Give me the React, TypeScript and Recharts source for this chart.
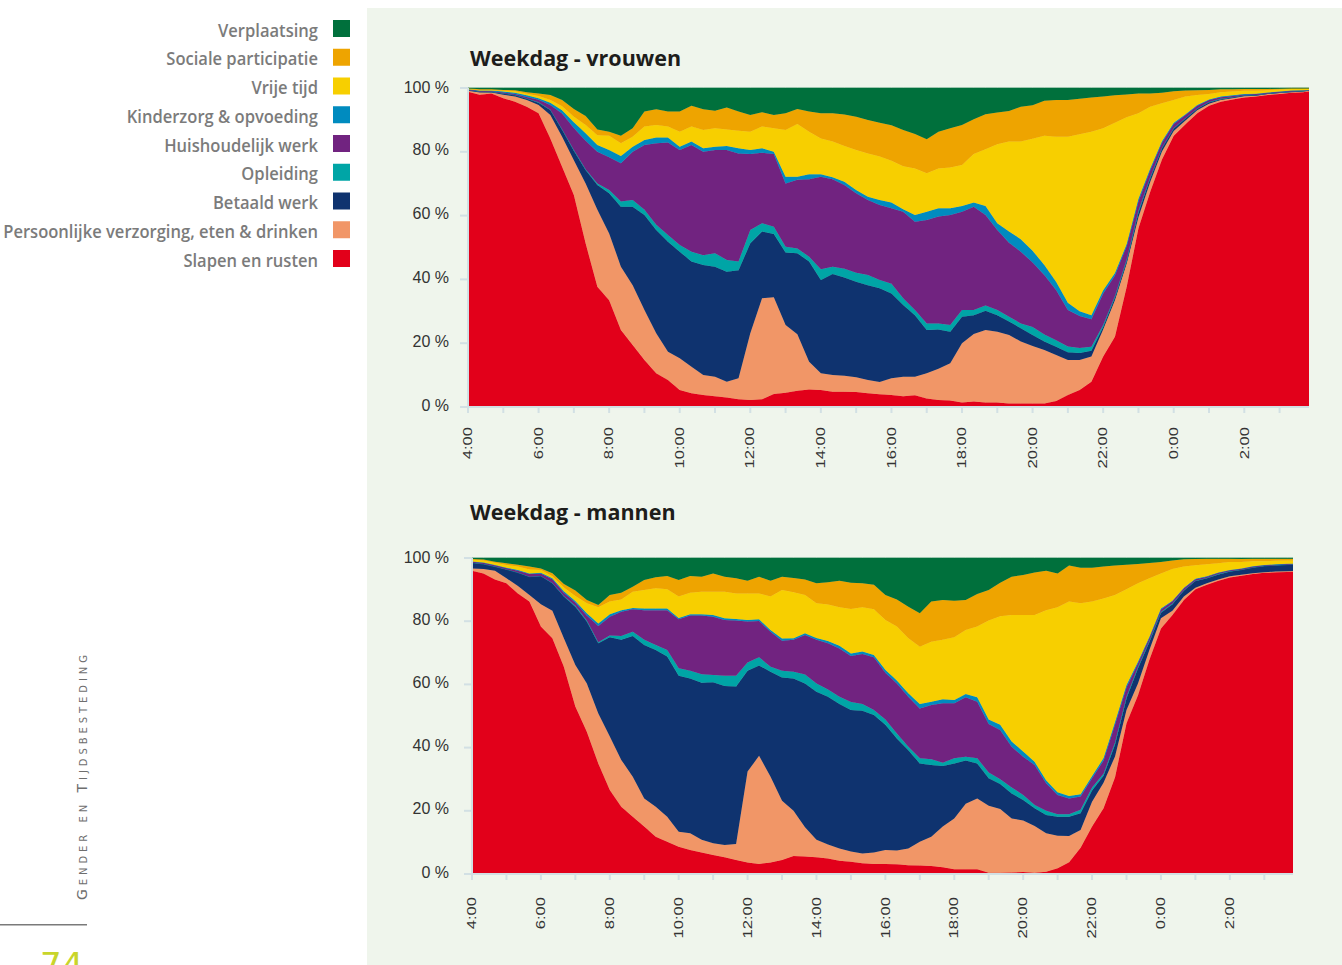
import React from "react";
import { AreaChart, Area, XAxis, YAxis } from "recharts";

// time points, 20 min apart, 4:00 → 3:50 next day
const TIMES = [
  "4:00", "4:20", "4:40", "5:00", "5:20", "5:40", "6:00", "6:20", "6:40", "7:00", "7:20", "7:40",
  "8:00", "8:20", "8:40", "9:00", "9:20", "9:40", "10:00", "10:20", "10:40", "11:00", "11:20", "11:40",
  "12:00", "12:20", "12:40", "13:00", "13:20", "13:40", "14:00", "14:20", "14:40", "15:00", "15:20", "15:40",
  "16:00", "16:20", "16:40", "17:00", "17:20", "17:40", "18:00", "18:20", "18:40", "19:00", "19:20", "19:40",
  "20:00", "20:20", "20:40", "21:00", "21:20", "21:40", "22:00", "22:20", "22:40", "23:00", "23:20", "23:40",
  "0:00", "0:20", "0:40", "1:00", "1:20", "1:40", "2:00", "2:20", "2:40", "3:00", "3:20", "3:40",
  "3:50",
];

const HOUR_LABELS = [
  "4:00", "5:00", "6:00", "7:00", "8:00", "9:00", "10:00", "11:00", "12:00", "13:00", "14:00", "15:00",
  "16:00", "17:00", "18:00", "19:00", "20:00", "21:00", "22:00", "23:00", "0:00", "1:00", "2:00", "3:00",
];

const Y_TICKS = [0, 0.2, 0.4, 0.6, 0.8, 1];

const SERIES = [
  { key: "slapen", name: "Slapen en rusten", color: "#e2001a" },
  { key: "verzorging", name: "Persoonlijke verzorging, eten & drinken", color: "#f19667" },
  { key: "betaald", name: "Betaald werk", color: "#0f336f" },
  { key: "opleiding", name: "Opleiding", color: "#00a5a6" },
  { key: "huishoud", name: "Huishoudelijk werk", color: "#712380" },
  { key: "kinderzorg", name: "Kinderzorg & opvoeding", color: "#008bbf" },
  { key: "vrije", name: "Vrije tijd", color: "#f7cf00" },
  { key: "sociaal", name: "Sociale participatie", color: "#eea400" },
  { key: "verplaatsing", name: "Verplaatsing", color: "#00703c" },
];

// ---- Weekdag - vrouwen (% of women) ----
const W_SLAPEN = [
  98.8, 97.9, 98.3, 96.8, 95.7, 94.1, 92.1, 84.2, 75.3, 67.0, 51.3, 37.7,
  33.5, 24.1, 19.4, 14.7, 10.6, 8.5, 5.3, 4.3, 3.8, 3.4, 3.0, 2.4,
  2.2, 2.4, 4.1, 4.5, 5.1, 5.5, 5.3, 4.8, 4.8, 4.7, 4.3, 4.0,
  3.8, 3.4, 3.7, 2.7, 2.2, 2.0, 1.4, 1.7, 1.4, 1.4, 1.1, 1.1,
  1.1, 1.1, 1.9, 3.8, 5.3, 7.9, 15.8, 22.0, 37.7, 56.0, 67.5, 77.6,
  85.0, 88.6, 92.1, 94.4, 95.7, 96.4, 97.0, 97.3, 97.8, 98.1, 98.5, 98.7,
  99.0,
];
const W_VERZORGING = [
  0.3, 0.7, 0.3, 1.1, 1.6, 2.1, 2.6, 7.3, 9.4, 11.0, 18.8, 24.1,
  20.9, 19.9, 18.8, 15.7, 12.5, 8.8, 10.0, 8.3, 6.2, 6.1, 4.9, 6.6,
  20.9, 31.7, 30.3, 21.2, 17.7, 8.7, 5.3, 5.2, 5.0, 4.6, 4.2, 3.8,
  5.2, 6.1, 5.8, 7.9, 9.8, 11.7, 18.6, 21.2, 22.7, 22.2, 21.5, 19.4,
  18.0, 16.8, 14.4, 10.9, 9.4, 7.9, 8.5, 11.5, 7.3, 3.5, 3.0, 2.5,
  1.5, 1.2, 0.9, 0.7, 0.5, 0.4, 0.4, 0.3, 0.3, 0.3, 0.2, 0.2,
  0.1,
];
const W_BETAALD = [
  0.3, 0.3, 0.2, 0.4, 0.5, 0.5, 0.7, 1.6, 2.2, 3.0, 4.2, 7.8,
  12.6, 18.8, 24.6, 29.8, 32.4, 34.5, 33.4, 33.0, 34.5, 34.5, 34.5, 33.9,
  28.2, 20.9, 19.8, 22.7, 25.4, 31.4, 29.2, 31.7, 30.8, 30.0, 29.7, 29.4,
  26.6, 22.5, 19.3, 13.5, 12.3, 9.9, 8.3, 5.9, 6.1, 5.2, 4.2, 4.2,
  3.5, 2.6, 2.6, 2.5, 2.2, 1.8, 0.8, 0.8, 0.8, 1.5, 1.2, 1.0,
  0.8, 0.6, 0.5, 0.4, 0.3, 0.3, 0.3, 0.2, 0.2, 0.2, 0.2, 0.2,
  0.2,
];
const W_OPLEIDING = [
  0, 0, 0, 0, 0, 0, 0.1, 0.1, 0.2, 0.2, 0.2, 0.5,
  1.0, 1.6, 2.1, 1.6, 1.6, 2.1, 2.1, 3.1, 3.1, 4.2, 3.7, 2.7,
  4.2, 2.6, 2.3, 1.8, 1.5, 1.5, 3.4, 2.3, 2.7, 2.8, 3.2, 2.6,
  3.0, 2.1, 1.6, 2.1, 1.9, 2.1, 2.1, 1.6, 1.6, 1.6, 1.5, 1.5,
  2.5, 2.2, 2.0, 1.8, 1.6, 1.3, 0.6, 0.4, 0.4, 0.5, 0.3, 0.2,
  0.2, 0.1, 0.1, 0.1, 0.1, 0, 0, 0, 0, 0, 0, 0,
  0,
];
const W_HUISHOUD = [
  0.1, 0.2, 0.2, 0.3, 0.3, 0.5, 0.8, 1.5, 4.9, 7.0, 9.0, 9.9,
  10.3, 12.0, 15.1, 20.3, 25.6, 29.0, 29.8, 33.4, 32.4, 32.4, 34.5, 33.9,
  23.8, 22.1, 22.8, 19.9, 21.5, 24.3, 29.0, 27.4, 26.3, 24.9, 23.5, 23.5,
  23.7, 27.1, 27.7, 32.4, 33.5, 34.5, 30.8, 32.4, 28.4, 25.1, 23.2, 22.5,
  20.2, 18.7, 15.8, 11.4, 10.0, 8.6, 9.9, 6.5, 4.3, 3.0, 2.2, 1.5,
  1.2, 1.0, 0.8, 0.6, 0.5, 0.4, 0.3, 0.3, 0.2, 0.2, 0.2, 0.1,
  0.1,
];
const W_KINDERZORG = [
  0.1, 0.1, 0.2, 0.3, 0.4, 0.5, 0.5, 0.7, 1.0, 1.8, 2.3, 2.1,
  2.3, 2.3, 1.6, 1.6, 1.8, 1.6, 1.0, 1.1, 1.1, 1.0, 1.2, 1.6,
  1.3, 1.4, 0.7, 2.1, 1.0, 1.6, 0.8, 0.6, 1.0, 1.0, 1.0, 1.6,
  1.8, 0.8, 2.1, 2.6, 2.6, 2.1, 1.8, 1.3, 2.8, 2.1, 3.5, 3.9,
  3.7, 3.1, 2.6, 2.3, 1.5, 1.3, 1.0, 0.8, 0.6, 0.8, 0.6, 0.5,
  0.4, 0.3, 0.3, 0.2, 0.2, 0.2, 0.1, 0.1, 0.1, 0.1, 0.1, 0.1,
  0,
];
const W_VRIJE = [
  0.2, 0.2, 0.2, 0.3, 0.5, 0.5, 0.7, 0.8, 1.3, 1.7, 2.6, 3.1,
  4.4, 4.0, 3.1, 4.2, 3.9, 3.4, 4.7, 4.7, 5.7, 5.8, 5.2, 5.5,
  5.7, 6.8, 7.4, 14.6, 16.5, 13.3, 11.2, 11.2, 11.2, 12.6, 13.6, 13.6,
  13.1, 13.5, 14.6, 12.1, 12.5, 12.8, 12.9, 15.2, 17.8, 24.8, 28.2, 30.6,
  35.1, 40.5, 45.4, 52.0, 55.5, 57.5, 50.8, 47.1, 39.7, 26.8, 19.3, 11.9,
  7.1, 5.5, 3.1, 1.7, 1.4, 1.2, 1.0, 0.9, 0.7, 0.6, 0.5, 0.4,
  0.4,
];
const W_SOCIAAL = [
  0.1, 0.2, 0.2, 0.2, 0.3, 0.5, 0.8, 1.6, 1.9, 2.5, 2.8, 1.8,
  1.3, 2.3, 2.7, 4.7, 4.9, 4.7, 6.3, 6.5, 6.5, 5.5, 6.9, 6.0,
  5.2, 4.5, 4.1, 5.3, 4.7, 6.3, 7.9, 8.9, 9.9, 10.4, 10.5, 10.6,
  11.1, 11.3, 10.8, 10.6, 11.5, 12.3, 12.5, 10.9, 11.0, 9.9, 9.6, 10.9,
  10.5, 11.0, 11.5, 11.5, 11.1, 10.7, 9.9, 8.6, 7.2, 6.2, 4.2, 3.3,
  2.8, 1.9, 1.5, 1.3, 0.9, 0.7, 0.6, 0.6, 0.4, 0.3, 0.2, 0.2,
  0.1,
];
const W_VERPLAATSING = [
  0.1, 0.4, 0.4, 0.6, 0.7, 1.3, 1.7, 2.2, 3.8, 6.6, 8.8, 13.0,
  13.7, 15.0, 12.6, 7.4, 6.7, 7.4, 7.4, 5.6, 6.7, 7.1, 6.1, 7.4,
  8.5, 7.6, 8.5, 7.9, 6.6, 7.4, 7.9, 7.9, 8.3, 9.0, 10.0, 10.9,
  11.7, 13.2, 14.4, 16.1, 13.7, 12.6, 11.6, 9.8, 8.2, 7.7, 7.2, 5.9,
  5.4, 4.0, 3.8, 3.8, 3.4, 3.0, 2.7, 2.3, 2.0, 1.7, 1.7, 1.5,
  1.0, 0.8, 0.7, 0.6, 0.4, 0.4, 0.3, 0.3, 0.3, 0.2, 0.1, 0.1,
  0.1,
];

// ---- Weekdag - mannen (% of men) ----
const M_SLAPEN = [
  96.0, 95.1, 93.2, 92.0, 88.8, 86.2, 78.3, 74.6, 65.6, 53.0, 45.0, 35.0,
  26.6, 21.3, 18.1, 15.0, 11.8, 10.2, 8.6, 7.6, 6.8, 6.0, 5.3, 4.4,
  3.6, 3.2, 3.6, 4.4, 5.7, 5.5, 5.3, 4.9, 4.2, 3.9, 3.4, 3.2,
  3.2, 3.1, 2.8, 2.7, 2.5, 2.1, 1.5, 1.5, 1.5, 0.4, 0.4, 0.5,
  0.6, 0.4, 0.7, 1.8, 3.7, 8.3, 15.0, 20.8, 30.6, 47.7, 56.6, 67.9,
  77.7, 82.0, 86.7, 90.1, 91.5, 92.8, 93.8, 94.4, 94.9, 95.3, 95.5, 95.6,
  95.7,
];
const M_VERZORGING = [
  0.7, 1.4, 2.8, 1.6, 2.3, 2.1, 7.1, 8.7, 9.0, 13.1, 15.3, 15.8,
  16.9, 14.8, 12.7, 8.9, 9.5, 7.9, 4.8, 5.3, 4.0, 3.7, 3.9, 5.1,
  28.8, 34.2, 27.2, 18.8, 14.3, 9.3, 5.5, 4.4, 3.9, 3.2, 3.1, 3.6,
  4.4, 4.3, 5.3, 7.5, 9.3, 12.9, 16.1, 20.7, 22.4, 21.2, 20.2, 17.1,
  16.3, 14.8, 12.2, 10.3, 8.3, 5.6, 7.9, 8.1, 6.6, 4.2, 3.7, 3.1,
  3.2, 1.3, 1.1, 0.5, 0.5, 0.4, 0.4, 0.3, 0.3, 0.2, 0.2, 0.2,
  0.2,
];
const M_BETAALD = [
  1.8, 1.6, 1.3, 2.8, 4.3, 5.8, 8.9, 8.7, 13.2, 18.5, 19.6, 22.2,
  31.4, 38.0, 44.5, 48.6, 49.6, 50.7, 49.3, 49.0, 49.7, 51.0, 50.3, 49.8,
  31.9, 28.6, 33.2, 39.0, 41.9, 45.5, 46.9, 46.8, 45.7, 44.8, 45.2, 43.5,
  39.6, 35.5, 31.1, 24.8, 22.7, 19.2, 17.4, 13.7, 11.1, 8.7, 7.9, 7.9,
  6.5, 5.6, 5.8, 6.0, 6.1, 5.3, 3.5, 2.2, 3.8, 3.7, 4.8, 2.5,
  1.8, 2.1, 1.9, 2.1, 1.6, 1.6, 1.5, 1.6, 1.8, 2.0, 2.0, 2.1,
  2.1,
];
const M_OPLEIDING = [
  0, 0, 0, 0, 0, 0, 0, 0.1, 0.2, 0.3, 0.3, 0.3,
  0.6, 1.2, 1.4, 1.6, 1.6, 2.1, 2.4, 2.4, 2.7, 2.3, 3.2, 3.4,
  2.6, 2.6, 1.6, 2.1, 2.1, 2.8, 2.6, 2.3, 2.3, 2.5, 2.1, 1.6,
  1.7, 1.6, 1.1, 1.6, 1.8, 1.0, 1.6, 1.2, 1.6, 1.8, 1.5, 1.9,
  1.6, 1.0, 1.3, 0.8, 0.8, 1.1, 1.0, 0.6, 0.6, 0.5, 0.4, 0.3,
  0.2, 0.2, 0.1, 0.1, 0.1, 0.1, 0.1, 0, 0, 0, 0, 0,
  0,
];
const M_HUISHOUD = [
  0.3, 0.4, 0.4, 0.4, 0.6, 0.8, 0.8, 1.2, 1.0, 1.0, 1.6, 5.2,
  5.9, 7.7, 7.1, 9.4, 11.0, 12.6, 15.5, 17.5, 18.6, 18.4, 17.7, 17.5,
  13.0, 11.5, 11.1, 9.5, 10.1, 12.5, 13.8, 14.6, 15.3, 14.6, 15.8, 16.7,
  14.8, 15.8, 15.8, 15.8, 17.2, 18.8, 17.4, 18.8, 17.9, 15.4, 15.6, 12.9,
  12.1, 12.7, 8.7, 6.1, 5.0, 4.2, 2.9, 4.2, 5.7, 3.0, 1.2, 1.0,
  0.8, 0.7, 0.6, 0.5, 0.4, 0.4, 0.3, 0.3, 0.3, 0.2, 0.2, 0.2,
  0.2,
];
const M_KINDERZORG = [
  0.1, 0.1, 0.1, 0.1, 0.2, 0.2, 0.2, 0.3, 0.5, 0.5, 0.7, 0.8,
  0.8, 0.5, 0.4, 0.5, 0.5, 0.5, 0.4, 0.4, 0.4, 0.6, 0.5, 0.5,
  0.5, 0.5, 0.5, 0.7, 0.5, 0.6, 0.6, 0.7, 0.8, 0.8, 0.8, 0.7,
  0.9, 0.9, 1.1, 1.4, 1.0, 1.3, 1.1, 1.1, 1.4, 1.4, 1.6, 1.6,
  1.7, 1.0, 1.0, 0.9, 0.8, 0.7, 0.7, 0.8, 0.8, 0.7, 0.5, 0.3,
  0.3, 0.2, 0.2, 0.1, 0.1, 0.1, 0.1, 0.1, 0.1, 0.1, 0.1, 0.1,
  0,
];
const M_VRIJE = [
  0.6, 0.6, 0.7, 0.9, 1.1, 1.3, 0.9, 0.6, 1.2, 1.6, 3.2, 5.1,
  4.0, 3.4, 5.1, 5.9, 6.4, 6.1, 6.8, 6.8, 7.1, 7.3, 8.4, 8.1,
  8.4, 8.2, 10.6, 15.4, 14.6, 12.1, 11.0, 11.6, 12.2, 14.1, 14.0, 14.5,
  15.8, 17.1, 17.4, 18.1, 19.0, 18.8, 19.8, 20.2, 22.4, 31.3, 34.4, 40.1,
  43.2, 46.5, 53.8, 58.5, 61.5, 60.5, 55.2, 50.5, 40.2, 30.3, 24.8, 18.5,
  11.1, 10.0, 6.7, 4.3, 3.8, 2.9, 2.5, 2.0, 1.6, 1.2, 1.1, 1.0,
  1.0,
];
const M_SOCIAAL = [
  0.2, 0.3, 0.3, 0.5, 0.6, 0.9, 0.5, 1.0, 1.1, 1.7, 1.0, 0.7,
  2.1, 2.1, 1.6, 3.1, 3.5, 4.2, 5.2, 5.3, 4.8, 5.8, 4.8, 4.8,
  4.0, 5.3, 5.0, 4.2, 4.5, 4.9, 6.3, 7.0, 8.4, 8.3, 7.6, 7.7,
  7.9, 8.6, 10.0, 10.6, 12.7, 12.6, 11.6, 9.5, 10.3, 9.7, 10.6, 12.1,
  12.6, 13.4, 12.5, 10.7, 11.4, 11.2, 10.7, 10.1, 9.3, 7.8, 6.1, 4.8,
  3.6, 2.7, 2.3, 2.0, 1.8, 1.5, 1.1, 1.0, 0.8, 0.8, 0.7, 0.6,
  0.6,
];
const M_VERPLAATSING = [
  0.3, 0.5, 1.2, 1.7, 2.1, 2.7, 3.3, 4.8, 8.2, 10.3, 13.3, 14.9,
  11.7, 11.0, 9.1, 7.0, 6.1, 5.7, 7.0, 5.7, 5.9, 4.9, 5.9, 6.4,
  7.2, 5.9, 7.2, 5.9, 6.3, 6.8, 8.0, 7.7, 7.2, 7.8, 8.0, 8.5,
  11.7, 13.1, 15.4, 17.5, 13.8, 13.3, 13.5, 13.3, 11.4, 10.1, 7.8, 5.9,
  5.4, 4.6, 4.0, 4.9, 2.4, 3.1, 3.1, 2.7, 2.4, 2.1, 1.9, 1.6,
  1.3, 0.8, 0.4, 0.3, 0.2, 0.2, 0.2, 0.3, 0.2, 0.2, 0.2, 0.2,
  0.2,
];

const AXIS_COLOR = "#d2e0e4";
const AXIS_FONT = "'Liberation Sans', Arial, sans-serif";

// minutes after 4:00
const toMin = (label: string) => {
  const [h, m] = label.split(":").map(Number);
  return ((h - 4 + 24) % 24) * 60 + m;
};
const HOUR_TICKS = HOUR_LABELS.map(toMin);

function buildRows(values: Record<string, number[]>) {
  return TIMES.map((t, i) => {
    const row: Record<string, number> = { min: toMin(t) };
    SERIES.forEach((s) => {
      row[s.key] = values[s.key][i];
    });
    return row;
  });
}

const vrouwenRows = buildRows({
  slapen: W_SLAPEN, verzorging: W_VERZORGING, betaald: W_BETAALD, opleiding: W_OPLEIDING,
  huishoud: W_HUISHOUD, kinderzorg: W_KINDERZORG, vrije: W_VRIJE, sociaal: W_SOCIAAL,
  verplaatsing: W_VERPLAATSING,
});
const mannenRows = buildRows({
  slapen: M_SLAPEN, verzorging: M_VERZORGING, betaald: M_BETAALD, opleiding: M_OPLEIDING,
  huishoud: M_HUISHOUD, kinderzorg: M_KINDERZORG, vrije: M_VRIJE, sociaal: M_SOCIAAL,
  verplaatsing: M_VERPLAATSING,
});

function HourTick(props: any) {
  const { x, y, index, drop } = props;
  if (index % 2 === 1) return <g />;
  return (
    <g transform={`translate(${x},${y + drop})`}>
      <text
        transform="rotate(-90) scale(1.38,1)"
        textAnchor="end"
        dy="0.35em"
        fontSize={12}
        fill="#333"
        fontFamily={AXIS_FONT}
      >
        {HOUR_LABELS[index]}
      </text>
    </g>
  );
}

function DayChart({ rows, width, height, labelGap, drop, rightBorder }: any) {
  const line = { stroke: AXIS_COLOR, strokeWidth: 2 };
  return (
    <AreaChart
      width={width}
      height={height}
      data={rows}
      stackOffset="expand"
      margin={{ top: 8, right: 21, bottom: 0, left: 0 }}
    >
      <XAxis
        dataKey="min"
        type="number"
        domain={[0, 1430]}
        ticks={HOUR_TICKS}
        interval={0}
        height={73}
        tickSize={6}
        tickMargin={2}
        axisLine={line}
        tickLine={line}
        tick={(p: any) => <HourTick {...p} drop={drop} />}
      />
      <XAxis
        xAxisId="top"
        orientation="top"
        dataKey="min"
        type="number"
        domain={[0, 1430]}
        height={0}
        tick={false}
        tickLine={false}
        axisLine={line}
      />
      <YAxis
        type="number"
        domain={[0, 1]}
        ticks={Y_TICKS}
        width={88}
        tickSize={8}
        tickMargin={labelGap}
        axisLine={line}
        tickLine={line}
        tickFormatter={(v: number) => `${Math.round(v * 100)} %`}
        tick={{ fontSize: 16, fill: "#333", fontFamily: AXIS_FONT, dy: -2 }}
      />
      {rightBorder && (
        <YAxis
          yAxisId="right"
          orientation="right"
          type="number"
          domain={[0, 1]}
          width={0}
          tick={false}
          tickLine={false}
          axisLine={line}
        />
      )}
      {SERIES.map((s) => (
        <Area
          key={s.key}
          dataKey={s.key}
          name={s.name}
          stackId="dag"
          type="linear"
          fill={s.color}
          fillOpacity={1}
          stroke={s.color}
          strokeWidth={0.7}
          dot={false}
          activeDot={false}
          isAnimationActive={false}
        />
      ))}
    </AreaChart>
  );
}

export default function App() {
  const legend = [...SERIES].reverse();
  return (
    <div
      style={{
        position: "fixed",
        left: 0,
        top: 0,
        width: 1342,
        height: 965,
        overflow: "hidden",
        background: "#ffffff",
      }}
    >
      <div style={{ position: "absolute", left: 367, top: 8, width: 975, height: 957, background: "#eff5ec" }} />

      <div style={{ position: "absolute", left: 380, top: 80 }}>
        <DayChart rows={vrouwenRows} width={950} height={400} labelGap={11} drop={12} />
      </div>
      <div style={{ position: "absolute", left: 384, top: 550 }}>
        <DayChart rows={mannenRows} width={930} height={397} labelGap={15} drop={15} rightBorder />
      </div>

      <svg
        width={1342}
        height={965}
        style={{ position: "absolute", left: 0, top: 0, pointerEvents: "none" }}
      >
        {legend.map((s, i) => (
          <g key={s.key}>
            <text
              transform={`translate(318, ${36.5 + 28.75 * i}) scale(0.92,1)`}
              textAnchor="end"
              fontSize={18}
              fontWeight={600}
              fill="#7b7b7b"
              fontFamily="'Open Sans', sans-serif"
            >
              {s.name}
            </text>
            <rect x={333} y={20 + 28.75 * i} width={17} height={17} fill={s.color} />
          </g>
        ))}

        <text x={470} y={66} fontSize={21.5} fontWeight={700} fill="#1d1d1b" fontFamily="'Open Sans', sans-serif">
          Weekdag - vrouwen
        </text>
        <text x={470} y={520} fontSize={21.5} fontWeight={700} fill="#1d1d1b" fontFamily="'Open Sans', sans-serif">
          Weekdag - mannen
        </text>

        <text
          x={87}
          y={900}
          transform="rotate(-90 87 900)"
          fontSize={14}
          fill="#6e6e6e"
          fontFamily="'DejaVu Sans', sans-serif"
          textLength={245}
          lengthAdjust="spacing"
          style={{ fontVariant: "small-caps" }}
        >
          Gender en Tijdsbesteding
        </text>
        <rect x={0} y={924} width={87} height={1.5} fill="#7a7a7a" />
        <text x={40} y={977} fontSize={34} fill="#c8d52b" fontFamily="'DejaVu Sans', sans-serif">
          74
        </text>
      </svg>
    </div>
  );
}
